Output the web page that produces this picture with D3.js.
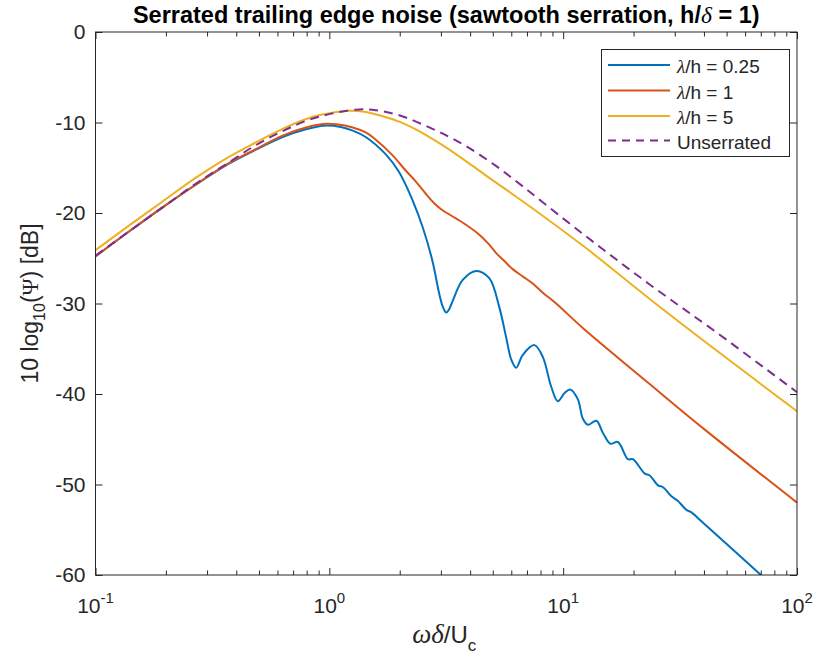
<!DOCTYPE html>
<html>
<head>
<meta charset="utf-8">
<script src="https://cdn.jsdelivr.net/npm/d3@7"></script>
<style>
  body { margin: 0; background: #fff; }
  svg { display: block; }
  text { font-family: "Liberation Sans", Arial, Helvetica, sans-serif; fill: #262626; }
  .greek { font-family: "Liberation Serif", "Times New Roman", serif; }
</style>
</head>
<body>
<svg id="chart" width="817" height="661"></svg>
<script>
// Normalised frequency (omega*delta/Uc) and spectrum level 10 log10(Psi) [dB]
const omegaBlue = [0.1, 0.139, 0.193, 0.269, 0.372, 0.485, 0.631, 0.794, 0.948, 1.12, 1.26, 1.43, 1.74, 1.99, 2.27, 2.51, 2.76, 2.95, 3.05, 3.16, 3.26, 3.37, 3.72, 4.24, 4.83, 5.33, 5.70, 6.0, 6.30, 6.71, 7.53, 8.18, 8.89, 9.48, 10.14, 10.72, 11.56, 12.13, 12.76, 13.87, 14.79, 15.92, 17.14, 18.92, 19.86, 22.34, 23.44, 25.47, 26.73, 29.04, 30.90, 33.65, 35.48, 38.37, 69.34, 100];
const psiBlue   = [-24.8, -22.05, -19.4, -16.85, -14.55, -13.0, -11.6, -10.75, -10.35, -10.5, -10.9, -11.6, -13.5, -15.5, -18.6, -21.6, -25.3, -28.9, -30.3, -31.0, -30.6, -29.7, -27.4, -26.4, -27.2, -30.4, -33.7, -36.2, -37.1, -35.7, -34.6, -35.9, -39.2, -40.8, -39.9, -39.5, -40.6, -42.7, -43.4, -42.95, -44.3, -45.5, -45.3, -47.2, -47.2, -48.8, -49.0, -50.1, -50.3, -51.3, -51.8, -52.8, -53.1, -53.9, -59.9, -63.7];

const omegaRed = [0.1, 0.139, 0.193, 0.269, 0.372, 0.485, 0.631, 0.794, 0.964, 1.07, 1.26, 1.43, 1.58, 1.86, 2.12, 2.34, 2.59, 2.83, 3.05, 3.48, 3.84, 4.38, 4.83, 5.16, 5.70, 6.08, 6.71, 7.41, 8.18, 9.33, 12.13, 23.44, 39.72, 100];
const psiRed   = [-24.8, -22.05, -19.4, -16.85, -14.5, -12.95, -11.45, -10.55, -10.15, -10.2, -10.55, -11.1, -11.9, -13.6, -15.3, -16.5, -17.9, -19.0, -19.7, -20.6, -21.3, -22.4, -23.5, -24.4, -25.5, -26.2, -27.0, -27.8, -28.8, -30.0, -32.7, -38.9, -43.8, -52.0];

const omegaYellow = [0.1, 0.139, 0.193, 0.269, 0.372, 0.485, 0.631, 0.820, 1.07, 1.21, 1.41, 1.69, 1.99, 2.34, 2.76, 3.26, 4.10, 5.00, 6.30, 12.13, 23.44, 45.29, 100];
const psiYellow   = [-24.1, -21.4, -18.75, -16.1, -13.8, -12.2, -10.7, -9.5, -8.85, -8.7, -8.8, -9.3, -9.9, -10.75, -11.8, -13.0, -14.8, -16.4, -18.2, -23.6, -29.5, -35.2, -41.9];

const omegaPurple = [0.1, 0.193, 0.269, 0.372, 0.485, 0.631, 0.820, 1.07, 1.34, 1.58, 1.99, 2.76, 3.26, 3.84, 5.16, 6.30, 12.13, 23.44, 45.29, 100];
const psiPurple   = [-24.7, -19.4, -16.75, -14.4, -12.5, -10.95, -9.7, -8.9, -8.55, -8.65, -9.2, -10.7, -11.6, -12.6, -14.8, -16.5, -22.3, -27.9, -33.2, -39.8];

const seriesNames = ["\u03bb/h = 0.25", "\u03bb/h = 1", "\u03bb/h = 5", "Unserrated"];
const xMajorTicks = [0.1, 1, 10, 100];
const xTickExponents = ["-1", "0", "1", "2"];
const yTicks = [-60, -50, -40, -30, -20, -10, 0];

const series = [
  { name: seriesNames[0], xs: omegaBlue,   ys: psiBlue,   color: "#0072BD", dash: null },
  { name: seriesNames[1], xs: omegaRed,    ys: psiRed,    color: "#D95319", dash: null },
  { name: seriesNames[2], xs: omegaYellow, ys: psiYellow, color: "#EDB120", dash: null },
  { name: seriesNames[3], xs: omegaPurple, ys: psiPurple, color: "#7E2F8E", dash: "9,6" }
];

const svg = d3.select("#chart");
const L = 95.5, R = 797, T = 32, B = 575;

const x = d3.scaleLog().domain([0.1, 100]).range([L, R]);
const y = d3.scaleLinear().domain([-60, 0]).range([B, T]);

svg.append("defs").append("clipPath").attr("id", "plotclip")
  .append("rect").attr("x", L).attr("y", T).attr("width", R - L).attr("height", B - T);

// curves
const line = d3.line().x(d => x(d[0])).y(d => y(d[1])).curve(d3.curveCatmullRom.alpha(0.5));
const plot = svg.append("g").attr("clip-path", "url(#plotclip)");
series.forEach(s => {
  const pts = s.xs.map((v, i) => [v, s.ys[i]]);
  plot.append("path").datum(pts)
    .attr("d", line)
    .attr("fill", "none")
    .attr("stroke", s.color)
    .attr("stroke-width", 2)
    .attr("stroke-dasharray", s.dash);
});

// axes with inward ticks
const minorTicks = [];
[0.1, 1, 10].forEach(d => { for (let k = 2; k <= 9; k++) minorTicks.push(d * k); });

function styleAxis(g) {
  g.select(".domain").remove();
  g.selectAll("line").attr("stroke", "#262626");
}
svg.append("g").attr("transform", `translate(0,${B})`)
  .call(d3.axisBottom(x).tickValues(xMajorTicks).tickSizeInner(-7).tickSizeOuter(0).tickFormat(""))
  .call(styleAxis);
svg.append("g").attr("transform", `translate(0,${B})`)
  .call(d3.axisBottom(x).tickValues(minorTicks).tickSizeInner(-4.5).tickSizeOuter(0).tickFormat(""))
  .call(styleAxis);
svg.append("g").attr("transform", `translate(0,${T})`)
  .call(d3.axisTop(x).tickValues(xMajorTicks).tickSizeInner(-7).tickSizeOuter(0).tickFormat(""))
  .call(styleAxis);
svg.append("g").attr("transform", `translate(0,${T})`)
  .call(d3.axisTop(x).tickValues(minorTicks).tickSizeInner(-4.5).tickSizeOuter(0).tickFormat(""))
  .call(styleAxis);
const yAxisL = svg.append("g").attr("transform", `translate(${L},0)`)
  .call(d3.axisLeft(y).tickValues(yTicks).tickSizeInner(-7).tickSizeOuter(0).tickPadding(10).tickFormat(d => String(d)))
  .call(styleAxis);
yAxisL.selectAll("text").attr("font-size", 21).attr("fill", "#262626")
  .attr("font-family", "Liberation Sans, Arial, sans-serif");
svg.append("g").attr("transform", `translate(${R},0)`)
  .call(d3.axisRight(y).tickValues(yTicks).tickSizeInner(-7).tickSizeOuter(0).tickFormat(""))
  .call(styleAxis);

// frame
svg.append("rect").attr("x", L).attr("y", T).attr("width", R - L).attr("height", B - T)
  .attr("fill", "none").attr("stroke", "#262626").attr("stroke-width", 1);

// x tick labels as powers of ten
xMajorTicks.forEach((v, i) => {
  const t = svg.append("text").attr("x", x(v)).attr("y", 613)
    .attr("text-anchor", "middle").attr("font-size", 21);
  t.append("tspan").text("10");
  t.append("tspan").attr("dy", -10).attr("font-size", 15).text(xTickExponents[i]);
});

// axis labels
const xl = svg.append("text").attr("x", (L + R) / 2 - 2).attr("y", 643)
  .attr("text-anchor", "middle").attr("font-size", 24);
xl.append("tspan").attr("class", "greek").attr("font-style", "italic").attr("font-size", 27).text("\u03c9\u03b4");
xl.append("tspan").text("/U");
xl.append("tspan").attr("dy", 8).attr("font-size", 17).text("c");

const yl = svg.append("text")
  .attr("transform", `translate(38,${(T + B) / 2}) rotate(-90)`)
  .attr("text-anchor", "middle").attr("font-size", 23);
yl.append("tspan").text("10 log");
yl.append("tspan").attr("dy", 7).attr("font-size", 16).text("10");
yl.append("tspan").attr("dy", -7).text("(");
yl.append("tspan").attr("class", "greek").text("\u03a8");
yl.append("tspan").text(") [dB]");

// title
const title = svg.append("text").attr("x", (L + R) / 2).attr("y", 23)
  .attr("text-anchor", "middle").attr("font-size", 23.5).attr("font-weight", "bold")
  .style("fill", "#000");
title.append("tspan").text("Serrated trailing edge noise (sawtooth serration, h/");
title.append("tspan").attr("class", "greek").attr("font-style", "italic").attr("font-weight", "normal").text("\u03b4");
title.append("tspan").text(" = 1)");

// legend
const lg = svg.append("g");
lg.append("rect").attr("x", 601.5).attr("y", 49.5).attr("width", 188).attr("height", 107)
  .attr("fill", "#fff").attr("stroke", "#262626").attr("stroke-width", 1);
const rowY = [65, 90.5, 116, 140.5];
series.forEach((s, i) => {
  lg.append("line").attr("x1", 608).attr("x2", 670).attr("y1", rowY[i]).attr("y2", rowY[i])
    .attr("stroke", s.color).attr("stroke-width", 2).attr("stroke-dasharray", s.dash ? "8,6" : null);
  const t = lg.append("text").attr("x", 677).attr("y", rowY[i] + 8).attr("font-size", 19);
  if (i < 3) {
    t.append("tspan").attr("class", "greek").attr("font-style", "italic").text("\u03bb");
    t.append("tspan").text(s.name.slice(1));
  } else {
    t.text(s.name);
  }
});
</script>
</body>
</html>
